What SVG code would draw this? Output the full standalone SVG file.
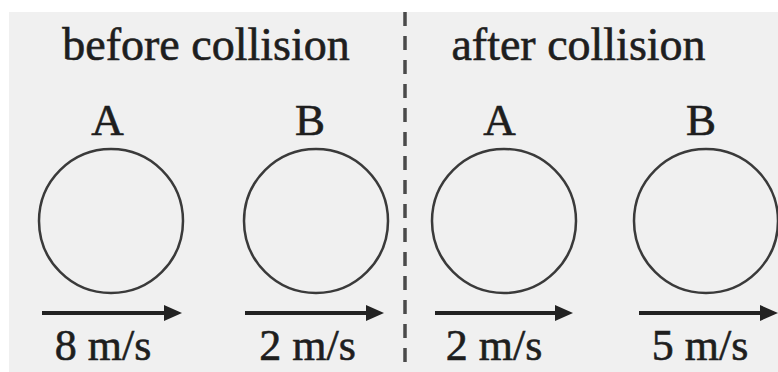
<svg xmlns="http://www.w3.org/2000/svg" width="778" height="372" viewBox="0 0 778 372">
<style>
.t{font-family:"Liberation Serif","Times New Roman",serif;fill:#1e1e1e;stroke:#1e1e1e;stroke-width:0.6;text-anchor:middle}
.title{font-size:46px}
.lbl{font-size:45px}
.spd{font-size:44px}
.ball{fill:none;stroke:#3a3a3a;stroke-width:2.5}
.arr{stroke:#222;stroke-width:4;fill:none;marker-end:url(#ah)}
</style>
<defs>
<marker id="ah" markerUnits="userSpaceOnUse" markerWidth="20" markerHeight="18" viewBox="0 0 20 18" refX="6" refY="9" orient="auto">
<path d="M0,1 L18,9 L0,17 z" fill="#222"/>
</marker>
</defs>
<rect x="0" y="0" width="778" height="372" fill="#ffffff"/>
<rect x="9" y="12" width="769" height="360" fill="#f0f0f0"/>
<line x1="405" y1="12" x2="405" y2="372" stroke="#4a4a4a" stroke-width="3.5" stroke-dasharray="14 10"/>
<g id="title-before"><text class="t title" x="206" y="60">before collision</text></g>
<g id="title-after"><text class="t title" x="578.5" y="60">after collision</text></g>
<g id="ballA-before">
<text class="t lbl" x="107.5" y="135">A</text>
<circle class="ball" cx="111" cy="221" r="72"/>
</g>
<g id="ballB-before">
<text class="t lbl" x="310" y="135">B</text>
<circle class="ball" cx="316" cy="221" r="72"/>
</g>
<g id="ballA-after">
<text class="t lbl" x="499.5" y="135">A</text>
<circle class="ball" cx="504" cy="221" r="72"/>
</g>
<g id="ballB-after">
<text class="t lbl" x="701" y="135">B</text>
<circle class="ball" cx="706" cy="221" r="72"/>
</g>
<g id="connectors">
<line class="arr" x1="42" y1="313" x2="170" y2="313"/>
<line class="arr" x1="245" y1="313" x2="372" y2="313"/>
<line class="arr" x1="435" y1="313" x2="561" y2="313"/>
<line class="arr" x1="639" y1="313" x2="766" y2="313"/>
</g>
<g id="speeds">
<text class="t spd" x="103" y="360">8 m/s</text>
<text class="t spd" x="307.5" y="360">2 m/s</text>
<text class="t spd" x="494" y="360">2 m/s</text>
<text class="t spd" x="700" y="360">5 m/s</text>
</g>
</svg>
